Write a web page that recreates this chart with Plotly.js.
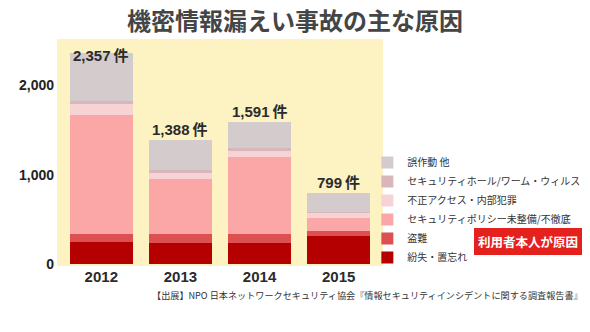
<!DOCTYPE html>
<html>
<head>
<meta charset="utf-8">
<script src="https://cdn.plot.ly/plotly-3.0.1.min.js"></script>
<style>html,body{margin:0;padding:0;background:#fff;}#chart{width:590px;height:332px;}</style>
</head>
<body>
<div id="chart"></div>
<script>
// ---- data ----
var years = ['2012', '2013', '2014', '2015'];
var totals = [2357, 1388, 1591, 799];
var lost = [243, 238, 238, 310];          // 紛失・置忘れ
var theft = [96, 98, 98, 59];             // 盗難
var policy = [1328, 611, 857, 149];       // セキュリティポリシー未整備/不徹底
var unauthorized = [123, 75, 74, 56];     // 不正アクセス・内部犯罪
var securityHole = [33, 29, 27, 12];      // セキュリティホール/ワーム・ウィルス
var misc = [534, 337, 297, 213];          // 誤作動 他
var seriesNames = ['紛失・置忘れ', '盗難', 'セキュリティポリシー未整備/不徹底', '不正アクセス・内部犯罪', 'セキュリティホール/ワーム・ウィルス', '誤作動 他'];

// ---- styling ----
var seriesColors = ['#b40000', '#dc5052', '#fca7a7', '#f8d3d6', '#d9b6ba', '#d4cccc'];
var seriesData = [lost, theft, policy, unauthorized, securityHole, misc];
var jp = '"Noto Sans CJK JP", "Noto Sans", sans-serif';
var num = '"Liberation Sans", "Noto Sans CJK JP", sans-serif';

var traces = seriesData.map(function (vals, i) {
  return {
    type: 'bar',
    x: years,
    y: vals,
    name: seriesNames[i],
    marker: { color: seriesColors[i], line: { width: 0 } },
    hoverinfo: 'none'
  };
});

var labelShift = [-13, 0, 0, 0];
var annotations = years.map(function (yr, i) {
  return {
    x: i, y: totals[i], xref: 'x', yref: 'y',
    text: '<b>' + totals[i].toLocaleString('en-US') + '\u2009件</b>',
    showarrow: false, yanchor: 'bottom', yshift: labelShift[i],
    font: { family: num, size: 15, color: '#2b2b2b' }
  };
});
annotations.push({
  xref: 'paper', yref: 'paper', x: 1.445, y: 0.106,
  text: '<b>利用者本人が原因</b>', showarrow: false,
  xanchor: 'center', yanchor: 'middle',
  bgcolor: '#e5211d', bordercolor: '#e5211d', borderpad: 3,
  font: { family: jp, size: 12.5, color: '#ffffff' }
});
annotations.push({
  xref: 'paper', yref: 'paper', x: 1.62, y: -0.128,
  text: '【出展】NPO 日本ネットワークセキュリティ協会『情報セキュリティインシデントに関する調査報告書』',
  showarrow: false, xanchor: 'right', yanchor: 'middle',
  font: { family: jp, size: 9.15, color: '#333333' }
});

var layout = {
  width: 590, height: 332,
  margin: { l: 57, r: 207, t: 39, b: 66, autoexpand: false },
  paper_bgcolor: '#ffffff',
  plot_bgcolor: '#fcf2c2',
  barmode: 'stack',
  bargap: 0.2,
  title: {
    text: '<b>機密情報漏えい事故の主な原因</b>',
    xref: 'container', x: 0.5, xanchor: 'center',
    yref: 'container', y: 1 - 22 / 332, yanchor: 'middle',
    font: { family: jp, size: 24, color: '#454545' }
  },
  xaxis: {
    type: 'category', range: [-0.56, 3.56],
    showgrid: false, zeroline: false, showline: false, ticks: '',
    tickfont: { family: num, size: 15, color: '#2b2b2b', weight: 'bold' }
  },
  yaxis: {
    range: [-22, 2517],
    tickvals: [0, 1000, 2000], tickformat: ',d',
    showgrid: false, zeroline: false, showline: false, ticks: '',
    ticklabelstandoff: 2,
    tickfont: { family: num, size: 14, color: '#222222', weight: 'bold' }
  },
  showlegend: true,
  legend: {
    traceorder: 'reversed',
    x: 0.952, xanchor: 'left', xref: 'paper',
    y: 0.52, yanchor: 'top', yref: 'paper',
    bgcolor: 'rgba(0,0,0,0)', borderwidth: 0,
    font: { family: jp, size: 10, color: '#333333' }
  },
  annotations: annotations
};

Plotly.newPlot('chart', traces, layout, { displayModeBar: false, staticPlot: true });
</script>
</body>
</html>
